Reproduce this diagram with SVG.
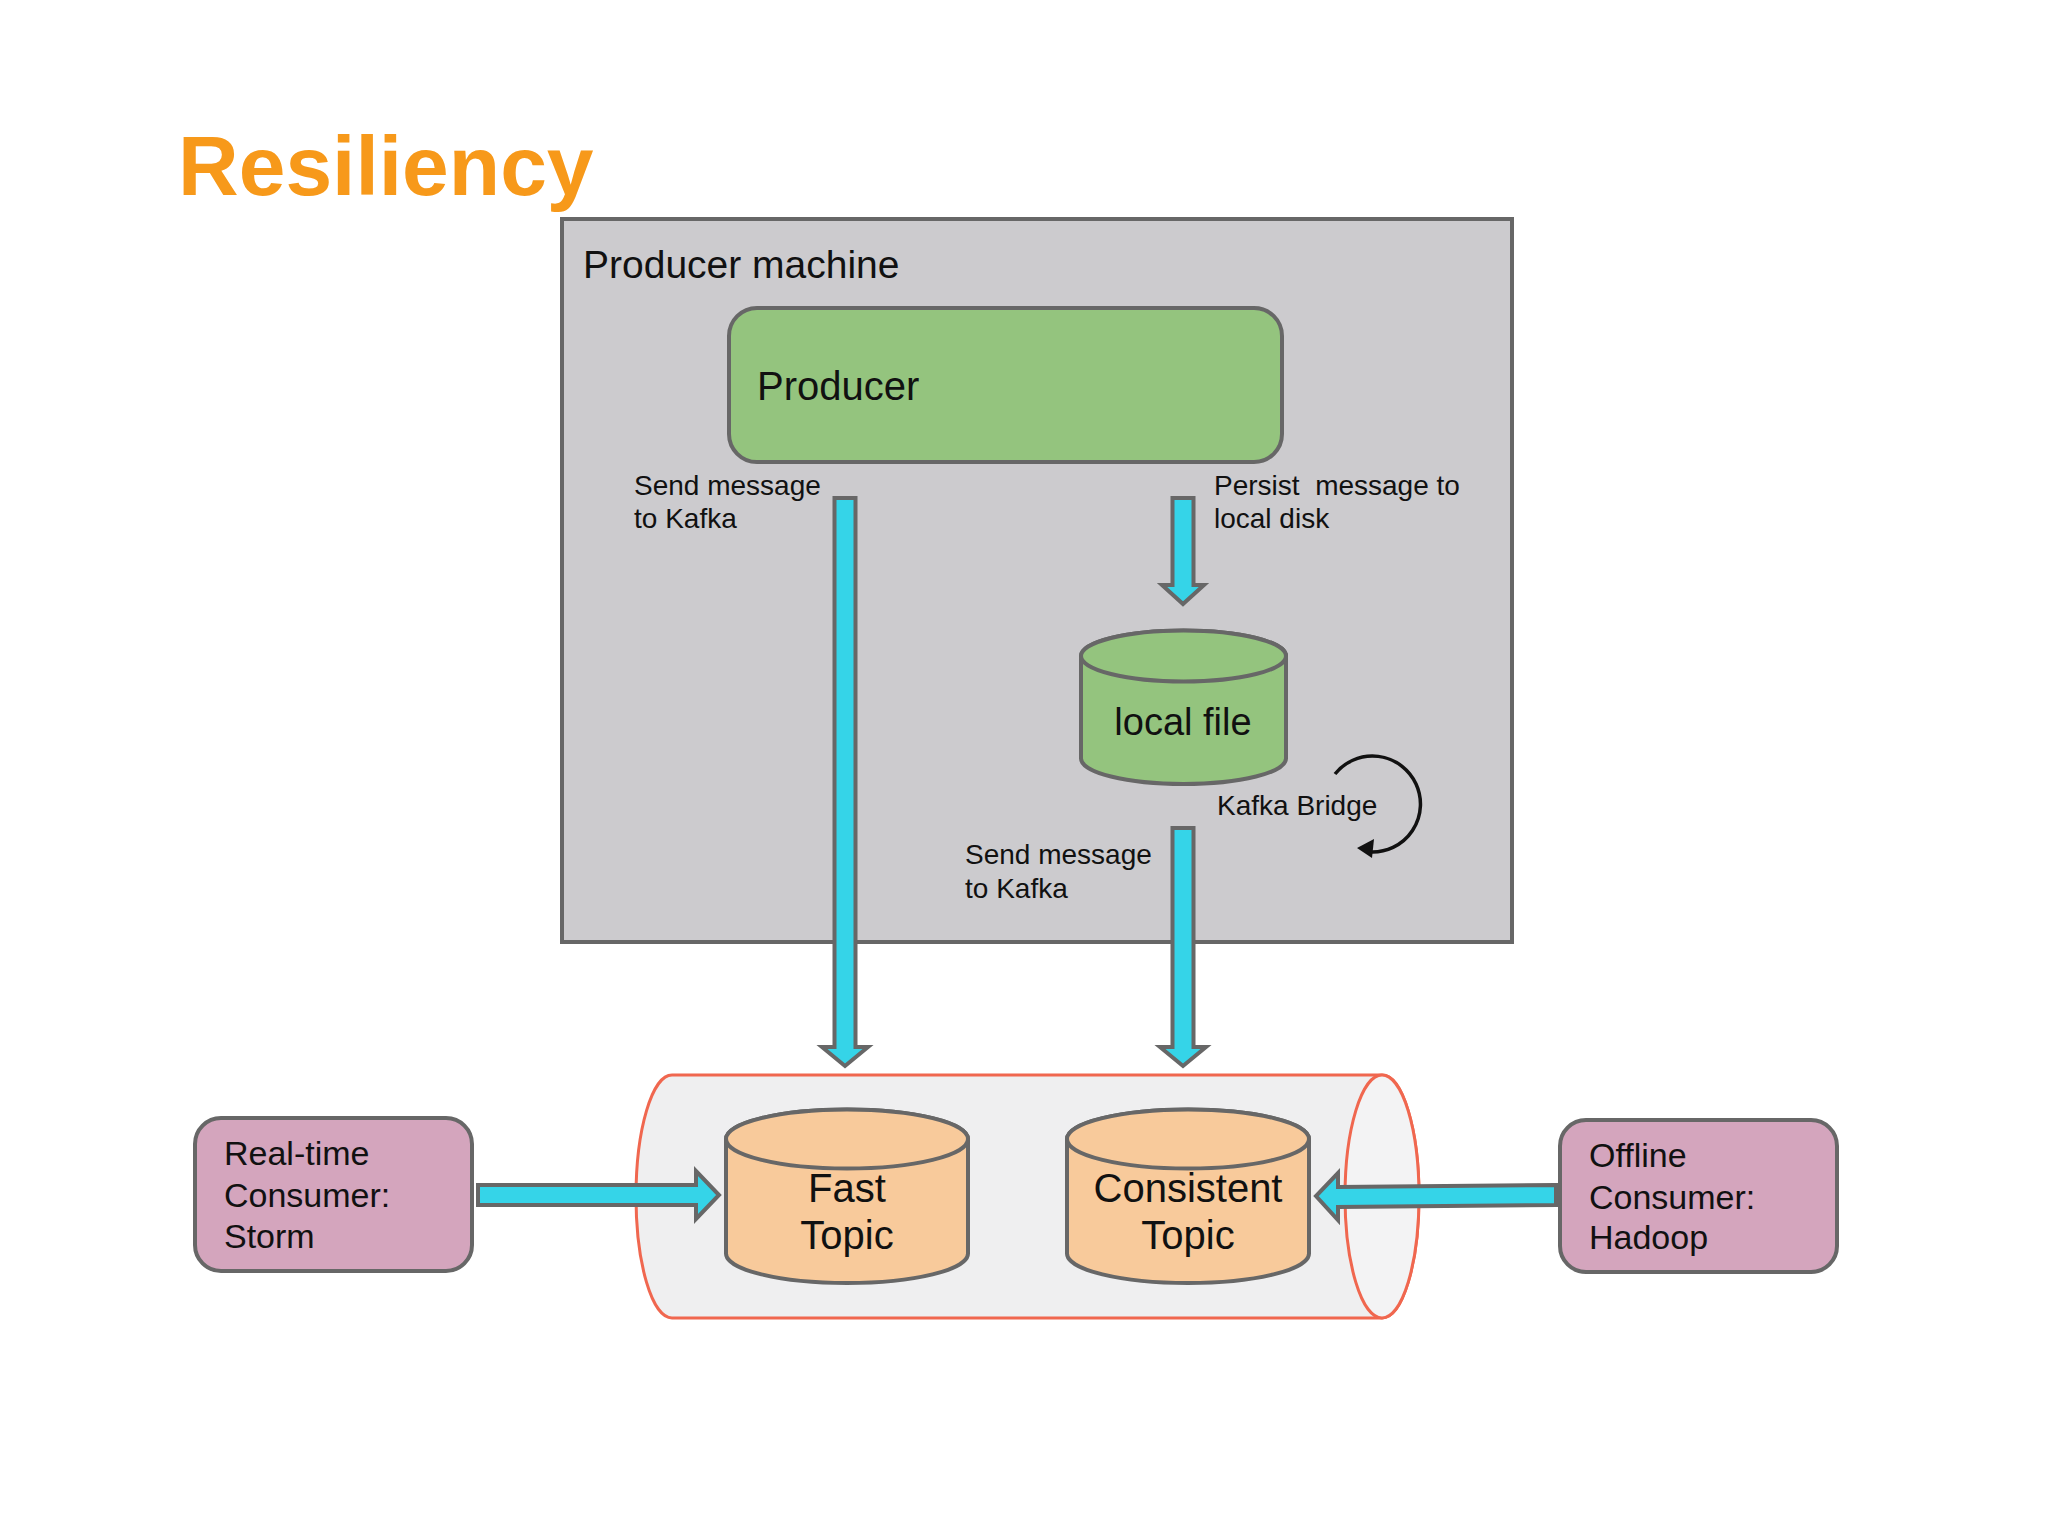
<svg xmlns="http://www.w3.org/2000/svg" width="2048" height="1536" viewBox="0 0 2048 1536">
<style>
text{font-family:"Liberation Sans",Arial,sans-serif;fill:#111}
.lbl{font-size:28px}
.node{stroke:#676767;stroke-width:4}
.arrow{fill:#35d4e8;stroke:#676767;stroke-width:4;stroke-linejoin:miter}
.cons{font-size:34px}
.topic{font-size:40px;text-anchor:middle}
</style>
<rect width="2048" height="1536" fill="#ffffff"/>
<text x="178" y="195" style="font-size:84px;font-weight:bold;fill:#f7991a">Resiliency</text>

<g id="producer-machine">
<rect x="562" y="219" width="950" height="723" fill="#cccbce" class="node"/>
<text x="583" y="278" style="font-size:39px">Producer machine</text>
</g>

<g id="producer">
<rect x="729" y="308" width="553" height="154" rx="28" ry="28" fill="#94c47e" class="node"/>
<text x="757" y="400" style="font-size:40px">Producer</text>
</g>

<g id="local-file">
<path d="M1081 656 V758.5 A102.5 25.5 0 0 0 1286 758.5 V656 A102.5 25.5 0 0 0 1081 656 Z" fill="#94c47e" class="node"/>
<ellipse cx="1183.5" cy="656" rx="102.5" ry="25.5" fill="#94c47e" class="node"/>
<text x="1183" y="735" style="font-size:38px;text-anchor:middle">local file</text>
</g>

<g id="kafka-cluster">
<path d="M672 1075 L1382 1075 A37 121.5 0 0 1 1382 1318 L672 1318 A36 121.5 0 0 1 672 1075 Z" fill="#efeff0" stroke="#f0674f" stroke-width="3"/>
<ellipse cx="1382" cy="1196.5" rx="37" ry="121.5" fill="#f3f3f4" stroke="#f0674f" stroke-width="3"/>
</g>

<g id="fast-topic">
<path d="M726 1139 V1253.5 A121 29.5 0 0 0 968 1253.5 V1139 A121 29.5 0 0 0 726 1139 Z" fill="#f8ca9b" class="node"/>
<ellipse cx="847" cy="1139" rx="121" ry="29.5" fill="#f8ca9b" class="node"/>
<text x="847" y="1202" class="topic">Fast</text>
<text x="847" y="1249" class="topic">Topic</text>
</g>

<g id="consistent-topic">
<path d="M1067 1139 V1253.5 A121 29.5 0 0 0 1309 1253.5 V1139 A121 29.5 0 0 0 1067 1139 Z" fill="#f8ca9b" class="node"/>
<ellipse cx="1188" cy="1139" rx="121" ry="29.5" fill="#f8ca9b" class="node"/>
<text x="1188" y="1202" class="topic">Consistent</text>
<text x="1188" y="1249" class="topic">Topic</text>
</g>

<g id="storm">
<rect x="195" y="1118" width="277" height="153" rx="26" ry="26" fill="#d4a5bd" class="node"/>
<text x="224" y="1165" class="cons">Real-time</text>
<text x="224" y="1207" class="cons">Consumer:</text>
<text x="224" y="1248" class="cons">Storm</text>
</g>

<g id="hadoop">
<rect x="1560" y="1120" width="277" height="152" rx="26" ry="26" fill="#d4a5bd" class="node"/>
<text x="1589" y="1167" class="cons">Offline</text>
<text x="1589" y="1209" class="cons">Consumer:</text>
<text x="1589" y="1249" class="cons">Hadoop</text>
</g>

<g id="connectors">
<polygon class="arrow" points="834.5,498 855.5,498 855.5,1047 868,1047 845,1066 822,1047 834.5,1047"/>
<polygon class="arrow" points="1172.5,498 1193.5,498 1193.5,585 1204,585 1183,604 1162,585 1172.5,585"/>
<polygon class="arrow" points="1172.5,828 1193.5,828 1193.5,1047 1206,1047 1183,1066 1160,1047 1172.5,1047"/>
<polygon class="arrow" points="478,1185 696,1185 696,1171 719,1195 696,1219 696,1205 478,1205"/>
<polygon class="arrow" points="1556,1185 1338,1187 1338,1173 1316,1196 1338,1220 1338,1207 1556,1205"/>
<path d="M1335 774 A48 48 0 1 1 1371 852" fill="none" stroke="#111" stroke-width="3.5"/>
<polygon points="1357,848 1374,839 1372,858" fill="#111"/>
<text x="634" y="495" class="lbl">Send message</text>
<text x="634" y="528" class="lbl">to Kafka</text>
<text x="1214" y="495" class="lbl" xml:space="preserve">Persist  message to</text>
<text x="1214" y="528" class="lbl">local disk</text>
<text x="1217" y="815" class="lbl">Kafka Bridge</text>
<text x="965" y="864" class="lbl">Send message</text>
<text x="965" y="898" class="lbl">to Kafka</text>
</g>
</svg>
